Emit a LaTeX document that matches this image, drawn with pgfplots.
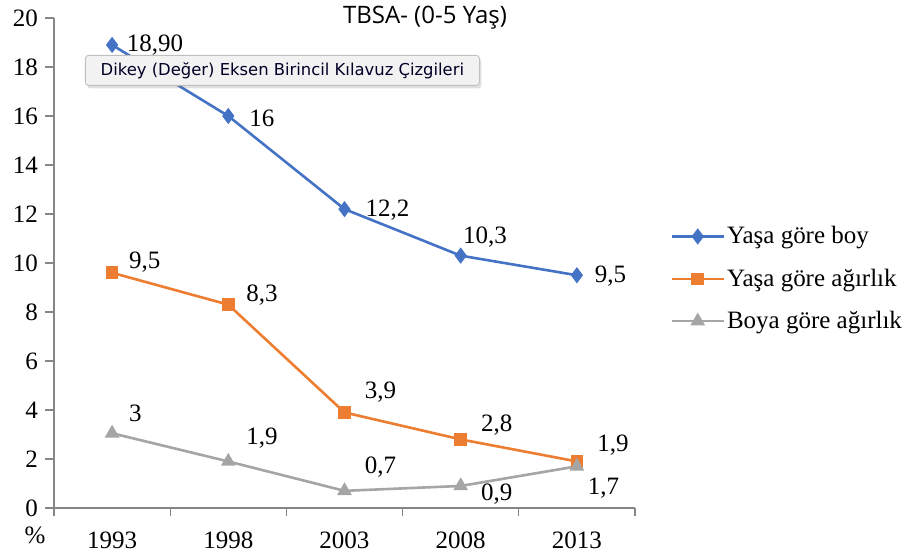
\documentclass[border=0pt]{standalone}
\usepackage{fontspec}
\setmainfont{Liberation Serif}
\newfontfamily\titlefont{Open Sans}
\newfontfamily\tipfont{DejaVu Sans}
\usepackage{pgfplots}
\pgfplotsset{compat=1.18}
\usetikzlibrary{shadows}
\definecolor{cblue}{HTML}{4472C4}
\definecolor{corange}{HTML}{ED7D31}
\definecolor{cgray}{HTML}{A5A5A5}
\definecolor{caxis}{HTML}{868686}
\begin{document}
\begin{tikzpicture}
\path[use as bounding box] (-27pt,-22pt) rectangle (426pt,254pt);
\begin{axis}[
  at={(0pt,0pt)}, anchor=south west,
  scale only axis, width=290.5pt, height=245pt,
  xmin=-0.5, xmax=4.5, ymin=0, ymax=20,
  axis x line*=bottom, axis y line*=left,
  axis line style={caxis, line width=0.6pt},
  xtick={0,1,2,3,4}, xticklabels={1993,1998,2003,2008,2013},
  minor xtick={-0.5,0.5,1.5,2.5,3.5,4.5},
  major x tick style={draw=none},
  minor x tick style={caxis, line width=0.6pt},
  ytick={0,2,...,20},
  y tick style={caxis, line width=0.6pt},
  tick align=outside,
  major tick length=4.5pt, minor tick length=4pt,
  tick label style={font=\fontsize{12.5}{14}\selectfont},
  /pgf/number format/assume math mode=true,
  xticklabel style={yshift=-4pt},
  legend style={at={(1.05,0.592)}, anchor=north west, draw=none, fill=none,
    font=\fontsize{12.5}{14}\selectfont, row sep=7pt,
    nodes={inner xsep=1pt}},
  legend image code/.code={\draw[mark repeat=2,mark phase=2] plot coordinates {(0pt,0pt) (13pt,0pt) (26pt,0pt)};},
  legend cell align=left,
  clip=false,
]
\addplot[cblue, line width=1.3pt, mark=diamond*, mark size=3pt] coordinates {(0,18.9) (1,16) (2,12.2) (3,10.3) (4,9.5)};
\addlegendentry{Yaşa göre boy}
\addplot[corange, line width=1.3pt, mark=square*, mark size=2.5pt] coordinates {(0,9.6) (1,8.3) (2,3.9) (3,2.8) (4,1.9)};
\addlegendentry{Yaşa göre ağırlık}
\addplot[cgray, line width=1.3pt, mark=triangle*, mark size=3pt] coordinates {(0,3.05) (1,1.9) (2,0.7) (3,0.9) (4,1.7)};
\addlegendentry{Boya göre ağırlık}
\begin{scope}[every node/.style={font=\fontsize{12.5}{14}\selectfont}]
\node at (axis cs:0.37,18.9) {18,90};
\node at (axis cs:1.29,15.92) {16};
\node at (axis cs:2.37,12.16) {12,2};
\node at (axis cs:3.21,11.06) {10,3};
\node at (axis cs:4.29,9.47) {9,5};
\node at (axis cs:0.28,10.04) {9,5};
\node at (axis cs:1.29,8.69) {8,3};
\node at (axis cs:2.31,4.73) {3,9};
\node at (axis cs:3.31,3.39) {2,8};
\node at (axis cs:4.31,2.57) {1,9};
\node at (axis cs:0.2,3.88) {3};
\node at (axis cs:1.29,2.86) {1,9};
\node at (axis cs:2.31,1.67) {0,7};
\node at (axis cs:3.31,0.57) {0,9};
\node at (axis cs:4.23,0.82) {1,7};
\end{scope}
\end{axis}
\node[font=\titlefont\fontsize{12}{14}\selectfont] at (185.5pt,245pt) {TBSA- (0-5 Yaş)};
\node[font=\fontsize{12.5}{14}\selectfont] at (-9.5pt,-13.5pt) {\%};
\node[draw=black!25, fill=black!5, rounded corners=1.5pt, drop shadow={opacity=0.25, shadow xshift=1pt, shadow yshift=-1.5pt},
  minimum width=197pt, minimum height=15pt, inner sep=2pt, text=black!85!blue,
  font=\tipfont\fontsize{8.2}{9}\selectfont, anchor=north west] at (15.5pt,226.5pt) {Dikey (Değer) Eksen Birincil Kılavuz Çizgileri};
\end{tikzpicture}
\end{document}
